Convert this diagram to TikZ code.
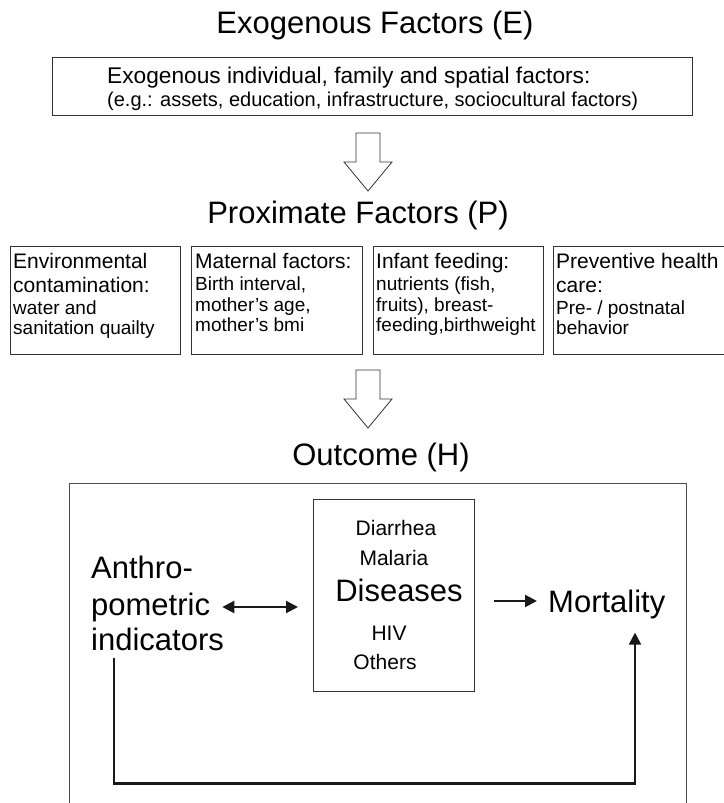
\documentclass[tikz,border=0pt]{standalone}
\usepackage{fontspec}
\setmainfont{Liberation Sans}
\usetikzlibrary{arrows.meta,calc}
\tikzset{
  frame/.style={draw=black!80, line width=0.9pt, inner sep=0, anchor=north west},
  ttl/.style={font=\fontsize{31}{36}\selectfont, anchor=base, inner sep=0},
  hd/.style={font=\fontsize{21}{24}\selectfont, anchor=base west, inner sep=0},
  bd/.style={font=\fontsize{19}{21}\selectfont, anchor=base west, inner sep=0},
  bigtxt/.style={font=\fontsize{31}{36}\selectfont, anchor=base west, inner sep=0},
  dz/.style={font=\fontsize{21}{24}\selectfont, anchor=base, inner sep=0},
  conn/.style={line width=2.2pt, draw=black!90},
  tip/.style={-{Triangle[length=12pt,width=12pt]}},
  blk/.style={draw=black!80, line width=0.8pt, fill=white, line join=miter},
}
\begin{document}
\begin{tikzpicture}[x=1pt,y=-1pt]
\useasboundingbox (0,0) rectangle (723,803);

% titles
\node[ttl] (tE) at (375,33) {Exogenous Factors (E)};
\node[ttl] (tP) at (358,223) {Proximate Factors (P)};
\node[ttl] (tH) at (381,465) {Outcome (H)};

% top box
\node[frame, minimum width=640pt, minimum height=58pt] (topbox) at (52,57) {};
\node[font=\fontsize{22.7}{26}\selectfont, anchor=base west, inner sep=0] (top1) at (107,83) {Exogenous individual, family and spatial factors:};
\node[font=\fontsize{20}{23}\selectfont, anchor=base west, inner sep=0] (top2) at (107,106) {(e.g.: assets, education, infrastructure, sociocultural factors)};

% block arrows
\draw[blk] (356,133) -- (380,133) -- (380,162) -- (392,162) -- (368,191) -- (344,162) -- (356,162) -- cycle;
\draw[blk] (356,370) -- (380,370) -- (380,399) -- (392,399) -- (368,428) -- (344,399) -- (356,399) -- cycle;

% proximate boxes
\node[frame, minimum width=170pt, minimum height=108pt] (b1) at (10,246) {};
\node[frame, minimum width=171pt, minimum height=108pt] (b2) at (191,246) {};
\node[frame, minimum width=170pt, minimum height=108pt] (b3) at (373,246) {};
\node[frame, minimum width=172pt, minimum height=108pt] (b4) at (553,246) {};

\node[hd] (b1a) at (13,268) {Environmental};
\node[hd] (b1b) at (13,292) {contamination:};
\node[bd] (b1c) at (13,314) {water and};
\node[bd] (b1d) at (13,334) {sanitation quailty};

\node[hd] (b2a) at (195,268) {Maternal factors:};
\node[bd] (b2b) at (195,290) {Birth interval,};
\node[bd] (b2c) at (195,311) {mother’s age,};
\node[bd] (b2d) at (195,331) {mother’s bmi};

\node[hd] (b3a) at (376,268) {Infant feeding:};
\node[bd] (b3b) at (376,290) {nutrients (fish,};
\node[bd] (b3c) at (376,311) {fruits), breast-};
\node[bd] (b3d) at (376,331) {feeding,birthweight};

\node[hd] (b4a) at (556,268) {Preventive health};
\node[hd] (b4b) at (556,292) {care:};
\node[bd] (b4c) at (556,314) {Pre- / postnatal};
\node[bd] (b4d) at (556,334) {behavior};

% outcome frame (open at the bottom)
\draw[draw=black!70, line width=0.9pt] (69,810) -- (69,483) -- (686,483) -- (686,810);

% diseases box
\node[frame, minimum width=161pt, minimum height=192pt] (dis) at (313,499) {};
\node[dz] (d1) at (396,535) {Diarrhea};
\node[dz] (d2) at (394,565) {Malaria};
\node[font=\fontsize{31}{36}\selectfont, anchor=base, inner sep=0] (d3) at (399,601) {Diseases};
\node[dz] (d4) at (389,640) {HIV};
\node[dz] (d5) at (385,669) {Others};

% anthropometric indicators
\node[bigtxt] (an1) at (91,578) {Anthro-};
\node[bigtxt] (an2) at (91,615) {pometric};
\node[bigtxt] (an3) at (91,650) {indicators};

% mortality
\node[bigtxt] (mort) at (548,612) {Mortality};

% connectors
\draw[conn, {Triangle[length=12pt,width=12pt]}-{Triangle[length=12pt,width=12pt]}]
  ([xshift=12pt]an2.east) -- ([xshift=-15pt]an2.east -| dis.west);
\draw[conn, tip] ([yshift=3pt,xshift=19pt]dis.east |- mort.west) -- ([yshift=3pt,xshift=-11pt]mort.west);
\draw[conn, tip] ([shift={(23,7)}]an3.south west) -- ++(0,126) -| ([shift={(87,14)}]mort.south west);
\end{tikzpicture}
\end{document}
